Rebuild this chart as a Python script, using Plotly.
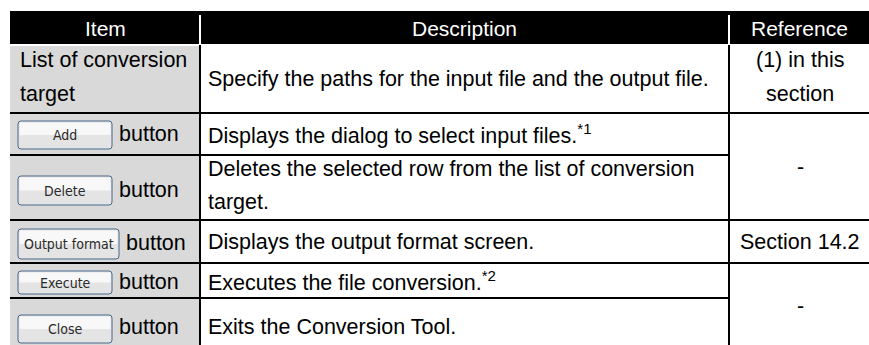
import plotly.graph_objects as go

# ---------------- data ----------------
headers = ["Item", "Description", "Reference"]
item_lines = [["List of conversion", "target"], ["Add"], ["Delete"], ["Output format"], ["Execute"], ["Close"]]
item_is_button = [False, True, True, True, True, True]
item_suffix = ["", "button", "button", "button", "button", "button"]
description_lines = [
    ["Specify the paths for the input file and the output file."],
    ["Displays the dialog to select input files.<sup>*1</sup>"],
    ["Deletes the selected row from the list of conversion", "target."],
    ["Displays the output format screen."],
    ["Executes the file conversion.<sup>*2</sup>"],
    ["Exits the Conversion Tool."],
]
reference_lines = [["(1) in this", "section"], ["-"], ["Section 14.2"], ["-"]]
reference_first_row = [0, 1, 3, 4]
reference_last_row = [0, 2, 3, 5]

# ---------------- layout geometry (pixels) ----------------
W, H = 869, 345
X0, XD1, XD2, X1 = 10, 200, 729, 869
HEAD_TOP, HEAD_BOT = 11, 44
row_top = [46, 114, 156, 221, 264, 299]
row_bot = [112, 154, 219, 262, 297, 345]
item_line_y = [[59.5, 94], [134], [190], [243], [282], [327]]
desc_line_y = [[79], [134], [168.5, 202], [242], [281], [327]]
ref_line_y = [[59.5, 94], [166.5], [242], [306]]
btn_y = [None, (121, 149), (176, 205), (229, 259), (271, 294), (315, 343)]
btn_w = [None, 94, 94, 101, 94, 94]
BTN_X = 18

FONT = "Liberation Sans, Arial, sans-serif"
BTN_FONT = "Liberation Sans Narrow, DejaVu Sans Condensed, Liberation Sans, sans-serif"
BODY_SIZE = 21.5
HEAD_SIZE = 21
GRAY = "#d9d9d9"
LINE = "#000000"
LW = 2

shapes = []
annotations = []

def rect(x0, y0, x1, y1, fill, layer="below"):
    shapes.append(dict(type="rect", xref="x", yref="y", x0=x0, y0=y0, x1=x1, y1=y1,
                       fillcolor=fill, line=dict(width=0), layer=layer))

def hline(y, xa, xb, color=LINE):
    shapes.append(dict(type="line", xref="x", yref="y", x0=xa, x1=xb, y0=y, y1=y,
                       line=dict(color=color, width=LW), layer="above"))

def vline(x, ya, yb, color=LINE):
    shapes.append(dict(type="line", xref="x", yref="y", x0=x, x1=x, y0=ya, y1=yb,
                       line=dict(color=color, width=LW), layer="above"))

def text(x, y, s, anchor="left", size=BODY_SIZE, color="#000000", family=FONT):
    annotations.append(dict(x=x, y=y, xref="x", yref="y", text=s, showarrow=False,
                            xanchor=anchor, yanchor="middle",
                            font=dict(family=family, size=size, color=color)))

def rounded(x0, y0, x1, y1, r):
    return (f"M {x0+r},{y0} L {x1-r},{y0} Q {x1},{y0} {x1},{y0+r} L {x1},{y1-r} "
            f"Q {x1},{y1} {x1-r},{y1} L {x0+r},{y1} Q {x0},{y1} {x0},{y1-r} "
            f"L {x0},{y0+r} Q {x0},{y0} {x0+r},{y0} Z")

# header
rect(X0, HEAD_TOP, X1, HEAD_BOT, "#000000")
vline(XD1, 15, HEAD_BOT, "#ffffff")
vline(XD2, 15, HEAD_BOT, "#ffffff")
head_cx = [(X0 + XD1) / 2, (XD1 + XD2) / 2, (XD2 + X1) / 2]
for cx, h in zip(head_cx, headers):
    text(cx, (HEAD_TOP + HEAD_BOT) / 2 + 0.5, h, anchor="center", size=HEAD_SIZE, color="#ffffff")

# item column background
rect(X0, row_top[0], XD1, H + 5, GRAY)

# rows
for i in range(len(item_lines)):
    if item_is_button[i]:
        y0, y1 = btn_y[i]
        bx1 = BTN_X + btn_w[i]
        shapes.append(dict(type="path", xref="x", yref="y", path=rounded(BTN_X, y0, bx1, y1, 3),
                           fillcolor="#e4e4e4", line=dict(color="#4a6888", width=1), layer="above"))
        shapes.append(dict(type="rect", xref="x", yref="y", x0=BTN_X + 1.5, x1=bx1 - 1.5,
                           y0=y0 + 1.5, y1=(y0 + y1) / 2, fillcolor="#f8f8f8",
                           line=dict(width=0), layer="above"))
        text((BTN_X + bx1) / 2, (y0 + y1) / 2, item_lines[i][0], anchor="center", size=14,
             color="#2a2a2a", family=BTN_FONT)
        text(bx1 + 5, item_line_y[i][0], item_suffix[i])
    else:
        for s, y in zip(item_lines[i], item_line_y[i]):
            text(18, y, s)
    for s, y in zip(description_lines[i], desc_line_y[i]):
        text(206, y, s)

ref_cx = (XD2 + X1) / 2 + 1
for k, lines in enumerate(reference_lines):
    for s, y in zip(lines, ref_line_y[k]):
        text(ref_cx, y, s, anchor="center")

# grid lines
for i in range(len(row_bot) - 1):
    yb = row_bot[i] + 1
    full = i in reference_last_row
    hline(yb, X0, X1 if full else XD2 + 1)
vline(XD1, row_top[0] - 1, H + 5)
vline(XD2, row_top[0] - 1, H + 5)

fig = go.Figure()
fig.update_layout(
    width=W, height=H,
    margin=dict(l=0, r=0, t=0, b=0),
    paper_bgcolor="#ffffff", plot_bgcolor="#ffffff",
    xaxis=dict(range=[0, W], visible=False, fixedrange=True),
    yaxis=dict(range=[H, 0], visible=False, fixedrange=True),
    shapes=shapes, annotations=annotations, showlegend=False,
)
fig.write_html("out.html", config={"displayModeBar": False},
               post_script="document.body.style.margin='0px';document.body.style.overflow='hidden';")
